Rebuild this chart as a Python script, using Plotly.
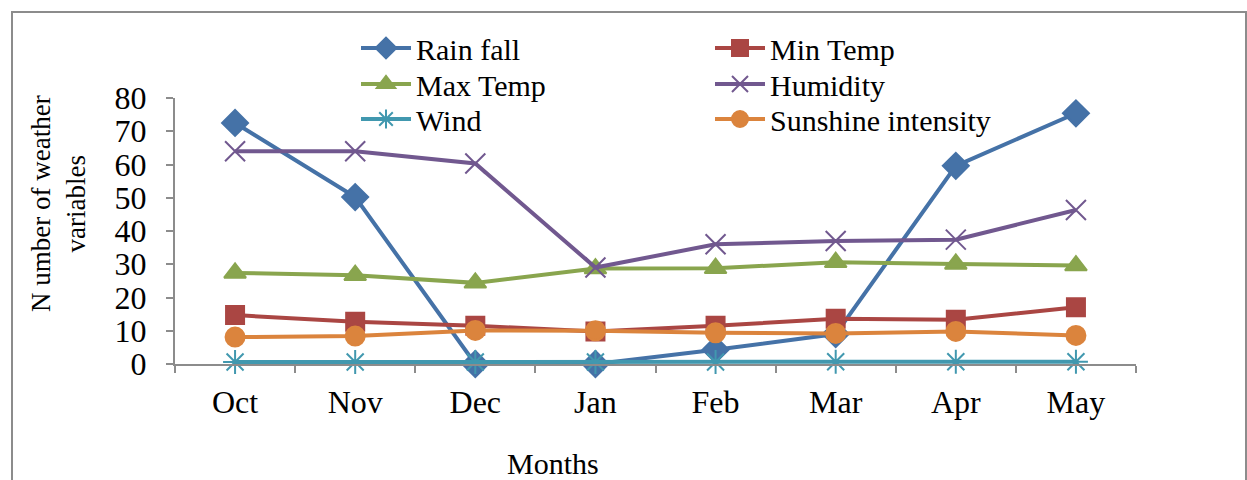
import plotly.graph_objects as go

months = ["Oct", "Nov", "Dec", "Jan", "Feb", "Mar", "Apr", "May"]
rain_fall = [72.5, 50.2, 0.0, 0.0, 4.3, 9.0, 59.6, 75.4]
min_temp = [14.7, 12.7, 11.5, 9.8, 11.5, 13.6, 13.3, 17.1]
max_temp = [27.4, 26.7, 24.4, 28.7, 28.8, 30.6, 30.1, 29.6]
humidity = [64.0, 64.0, 60.3, 29.0, 36.0, 37.0, 37.4, 46.3]
wind = [0.6, 0.6, 0.6, 0.6, 0.6, 0.7, 0.7, 0.7]
sunshine = [8.1, 8.4, 10.1, 10.0, 9.4, 9.2, 9.8, 8.6]

FONT = "Liberation Serif"
W, H = 1247, 480
L, R, T, B = 175, 111, 98, 116
pw, ph = W - L - R, H - T - B

def px(x):
    return (x - L) / pw

def py(y):
    return (H - B - y) / ph

series = [
    ("Rain fall", rain_fall, "#4572A7", "diamond", 20, "legend"),
    ("Min Temp", min_temp, "#AA4643", "square", 18, "legend"),
    ("Max Temp", max_temp, "#89A54E", "triangle-up", 19, "legend2"),
    ("Humidity", humidity, "#71588F", "x-thin-open", 20, "legend2"),
    ("Wind", wind, "#4198AF", "asterisk-open", 20, "legend3"),
    ("Sunshine intensity", sunshine, "#DB843D", "circle", 19, "legend3"),
]

fig = go.Figure()
for name, vals, col, sym, size, leg in series:
    fig.add_trace(go.Scatter(
        x=months, y=vals, name=name, mode="lines+markers",
        line=dict(color=col, width=4),
        marker=dict(symbol=sym, size=size, color=col,
                    line=dict(color=col, width=2)),
        cliponaxis=False, legend=leg,
    ))

legfont = dict(family=FONT, size=30, color="black")

def leg(ycenter):
    return dict(x=px(356), y=py(ycenter), xanchor="left", yanchor="middle",
                orientation="h", entrywidth=289, entrywidthmode="pixels",
                font=legfont, bgcolor="rgba(0,0,0,0)", itemwidth=50)

fig.update_layout(
    width=W, height=H,
    margin=dict(l=L, r=R, t=T, b=B),
    paper_bgcolor="white", plot_bgcolor="white",
    font=dict(family=FONT, size=28, color="black"),
    legend=leg(48), legend2=leg(84), legend3=leg(119),
    xaxis=dict(
        type="category", range=[-0.5, 7.5], showgrid=False,
        showline=True, linecolor="#8c8c8c", linewidth=2,
        ticks="outside", ticklen=7, tickcolor="#8c8c8c", tickwidth=2,
        tickson="boundaries", ticklabelstandoff=9,
        tickfont=dict(family=FONT, size=32), zeroline=False,
    ),
    yaxis=dict(
        range=[0, 80], dtick=10, showgrid=False,
        showline=True, linecolor="#8c8c8c", linewidth=2,
        ticks="outside", ticklen=7, tickcolor="#8c8c8c", tickwidth=2,
        ticklabelstandoff=13,
        tickfont=dict(family=FONT, size=32), zeroline=False,
    ),
    showlegend=True,
)

fig.add_annotation(
    text="N umber of weather<br>variables", textangle=-90,
    xref="paper", yref="paper", x=px(58), y=py(204),
    xanchor="center", yanchor="middle", showarrow=False,
    font=dict(family=FONT, size=27, color="black"),
)
fig.add_annotation(
    text="Months", xref="paper", yref="paper", x=px(553), y=py(463),
    xanchor="center", yanchor="middle", showarrow=False,
    font=dict(family=FONT, size=30, color="black"),
)
fig.add_shape(
    type="rect", xref="paper", yref="paper",
    x0=px(12), x1=px(1246), y0=py(12), y1=py(520),
    line=dict(color="#8c8c8c", width=2), layer="below",
)

fig.write_html("out.html", config={"displayModeBar": False},
               post_script="document.body.style.margin='0';document.body.style.overflow='hidden';")
